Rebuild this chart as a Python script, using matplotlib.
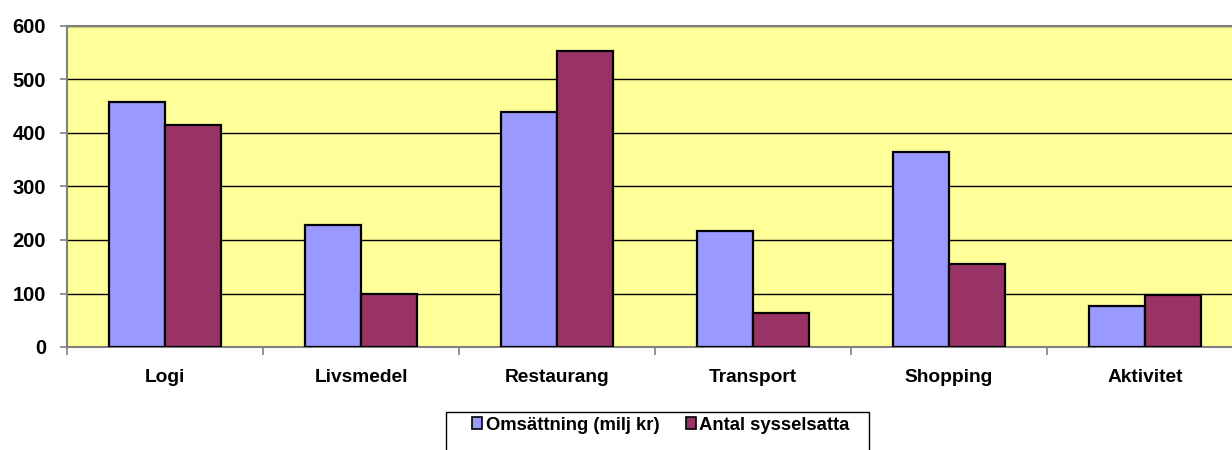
import matplotlib
matplotlib.use('Agg')
import matplotlib.pyplot as plt
import matplotlib.patches as patches
import numpy as np

# data
categories = ['Logi', 'Livsmedel', 'Restaurang', 'Transport', 'Shopping', 'Aktivitet']
omsattning = [458, 228, 439, 216, 365, 77]
sysselsatta = [415, 99, 553, 64, 155, 98]
series_names = ['Omsättning (milj kr)', 'Antal sysselsatta']
yticks = [0, 100, 200, 300, 400, 500, 600]

plt.rcParams['font.family'] = ['Liberation Sans', 'DejaVu Sans']
plt.rcParams['font.weight'] = 'bold'

fig = plt.figure(figsize=(12.32, 4.5), dpi=100)
# plot area runs a little past the right edge, like the cropped original
ax = fig.add_axes([67/1232, 103/450, 1176/1232, 321/450])
ax.set_facecolor('#FFFF99')

x = np.arange(len(categories))
w = 0.2857
ax.bar(x - w/2, omsattning, w, color='#9999FF', edgecolor='black', linewidth=1.6,
       label=series_names[0], zorder=3)
ax.bar(x + w/2, sysselsatta, w, color='#993366', edgecolor='black', linewidth=1.6,
       label=series_names[1], zorder=3)

ax.set_xlim(-0.5, len(categories) - 0.5)
ax.set_ylim(0, 600)
ax.set_yticks(yticks)
ax.set_yticklabels([str(v) for v in yticks], fontsize=14.5, fontweight='bold')
ax.yaxis.grid(True, color='black', linewidth=1.0, zorder=1)
ax.set_axisbelow(True)

ax.set_xticks(x)
ax.set_xticklabels(categories, fontsize=13.8, fontweight='bold')
ax.set_xticks(np.arange(len(categories) + 1) - 0.5, minor=True)
ax.tick_params(axis='x', which='major', length=0, pad=15.5)
ax.tick_params(axis='x', which='minor', length=6, color='#808080', width=1.2)
ax.tick_params(axis='y', length=5, color='#808080', width=1.2, pad=10)

for side in ['left', 'bottom', 'top']:
    ax.spines[side].set_color('#808080')
    ax.spines[side].set_linewidth(1.5)
ax.spines['right'].set_visible(False)

# legend box (bottom goes off the picture)
box = patches.Rectangle((446/1232, -10/450), 423/1232, 48/450,
                        transform=fig.transFigure, facecolor='white',
                        edgecolor='black', linewidth=1.0, zorder=-1)
fig.patches.append(box)
leg = fig.legend(loc='center', bbox_to_anchor=(661/1232, 25/450),
                 ncol=2, frameon=False,
                 prop={'size': 13.3, 'weight': 'bold'}, handlelength=0.55,
                 handleheight=0.55, handletextpad=0.2, columnspacing=1.4)
for h in leg.legend_handles:
    h.set_linewidth(1.2)

fig.savefig('out.png', dpi=100)
